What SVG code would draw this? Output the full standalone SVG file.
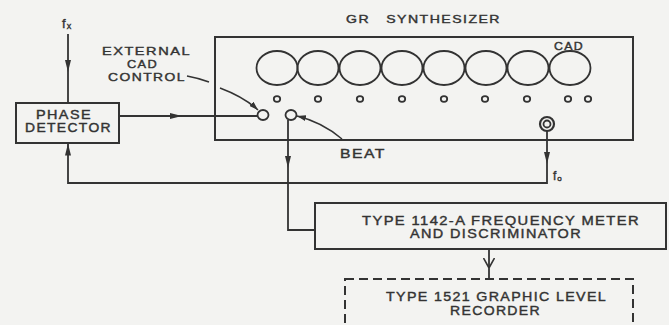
<svg xmlns="http://www.w3.org/2000/svg" width="669" height="325" viewBox="0 0 669 325">
<style>
.bg{fill:#f3f3f1}
.box{fill:none;stroke:#333;stroke-width:2}
.ln{fill:none;stroke:#333;stroke-width:1.8}
.thin{fill:none;stroke:#333;stroke-width:1.5}
.knob{fill:none;stroke:#333;stroke-width:1.8}
.t{font-family:"Liberation Sans",Arial,sans-serif;fill:#333;font-size:12.5px;stroke:#333;stroke-width:0.4;letter-spacing:1.2px}
.dash{fill:none;stroke:#333;stroke-width:2;stroke-dasharray:9 5}
</style>
<defs>
<marker id="arr" viewBox="0 0 12 6" refX="12" refY="3" markerWidth="12" markerHeight="6" markerUnits="userSpaceOnUse" orient="auto">
<path d="M0,0 L12,3 L0,6 z" fill="#333"/>
</marker>
<marker id="arrs" viewBox="0 0 9 6" refX="9" refY="3" markerWidth="9" markerHeight="6" markerUnits="userSpaceOnUse" orient="auto">
<path d="M0,0 L9,3 L0,6 z" fill="#333"/>
</marker>
<marker id="vee" viewBox="0 0 10 12" refX="10" refY="6" markerWidth="10" markerHeight="12" markerUnits="userSpaceOnUse" orient="auto">
<path d="M0,0.5 L10,6 L0,11.5" fill="none" stroke="#333" stroke-width="1.6"/>
</marker>
</defs>
<rect class="bg" x="0" y="0" width="669" height="325"/>

<g id="synthesizer">
<text class="t" xml:space="preserve" x="346" y="23" textLength="155" lengthAdjust="spacingAndGlyphs" style="font-size:11.5px;white-space:pre">GR   SYNTHESIZER</text>
<rect class="box" x="215" y="37" width="418" height="103"/>
<g class="knob">
<ellipse cx="277" cy="68" rx="20.5" ry="17"/>
<ellipse cx="318" cy="68" rx="20.5" ry="17"/>
<ellipse cx="360" cy="68" rx="20.5" ry="17"/>
<ellipse cx="402" cy="68" rx="20.5" ry="17"/>
<ellipse cx="444" cy="68" rx="20.5" ry="17"/>
<ellipse cx="486" cy="68" rx="20.5" ry="17"/>
<ellipse cx="528" cy="68" rx="20.5" ry="17"/>
<ellipse cx="570" cy="68" rx="20.5" ry="17"/>
<ellipse cx="277" cy="99" rx="3.2" ry="2.8"/>
<ellipse cx="318" cy="99" rx="3.2" ry="2.8"/>
<ellipse cx="360" cy="99" rx="3.2" ry="2.8"/>
<ellipse cx="402" cy="99" rx="3.2" ry="2.8"/>
<ellipse cx="444" cy="99" rx="3.2" ry="2.8"/>
<ellipse cx="485" cy="99" rx="3.2" ry="2.8"/>
<ellipse cx="527" cy="99" rx="3.2" ry="2.8"/>
<ellipse cx="568" cy="99" rx="3.2" ry="2.8"/>
<ellipse cx="588" cy="99" rx="3.2" ry="2.8"/>
<ellipse cx="263" cy="115" rx="5.5" ry="5"/>
<ellipse cx="291" cy="115" rx="5.5" ry="5"/>
<circle cx="547" cy="124" r="7" stroke-width="2.2"/>
<circle cx="547" cy="124" r="3.5" stroke-width="1.8"/>
</g>
<text class="t" x="554" y="50" textLength="30" lengthAdjust="spacingAndGlyphs" style="font-size:11px">CAD</text>
</g>

<g id="phase-detector">
<rect class="box" x="16" y="103" width="103" height="40"/>
<text class="t" x="36" y="119" textLength="56" lengthAdjust="spacingAndGlyphs" style="font-size:12px">PHASE</text>
<text class="t" x="25" y="131.5" textLength="87" lengthAdjust="spacingAndGlyphs" style="font-size:12px">DETECTOR</text>
</g>

<g id="frequency-meter">
<rect class="box" x="315" y="203" width="351" height="46"/>
<text class="t" x="362" y="225" textLength="278" lengthAdjust="spacingAndGlyphs">TYPE 1142-A FREQUENCY METER</text>
<text class="t" x="410" y="238" textLength="172" lengthAdjust="spacingAndGlyphs">AND DISCRIMINATOR</text>
</g>

<g id="level-recorder">
<rect class="dash" x="345" y="279" width="288" height="70"/>
<text class="t" x="386" y="301" textLength="221" lengthAdjust="spacingAndGlyphs">TYPE 1521 GRAPHIC LEVEL</text>
<text class="t" x="450" y="315" textLength="91" lengthAdjust="spacingAndGlyphs">RECORDER</text>
</g>

<g id="labels">
<text class="t" x="102" y="54.5" textLength="89" lengthAdjust="spacingAndGlyphs" style="font-size:11.5px">EXTERNAL</text>
<text class="t" x="127" y="67.5" textLength="31" lengthAdjust="spacingAndGlyphs" style="font-size:11.5px">CAD</text>
<text class="t" x="108" y="80.5" textLength="78" lengthAdjust="spacingAndGlyphs" style="font-size:11.5px">CONTROL</text>
<text class="t" x="340" y="158" textLength="46" lengthAdjust="spacingAndGlyphs">BEAT</text>
<text class="t" x="62" y="28" style="font-size:13px;letter-spacing:0">f<tspan dx="1" dy="1" style="font-size:9px">x</tspan></text>
<text class="t" x="553" y="180" style="font-size:12px;letter-spacing:0">f<tspan dx="1" dy="1" style="font-size:8px">o</tspan></text>
</g>

<g id="connectors">
<path class="ln" d="M68 34 V72" marker-end="url(#arr)"/>
<path class="ln" d="M68 72 V103"/>
<path class="ln" d="M119 116 H182" marker-end="url(#arr)"/>
<path class="ln" d="M182 116 H257.5"/>
<path class="ln" d="M547 131 V164" marker-end="url(#arr)"/>
<path class="ln" d="M547 164 V183 H68 V158"/>
<path class="ln" d="M68 158 V143.5" marker-end="url(#arr)"/>
<path class="ln" d="M288 120 V168" marker-end="url(#arr)"/>
<path class="ln" d="M288 168 V230 H315"/>
<path class="ln" d="M489 249 V268" marker-end="url(#vee)"/>
<path class="ln" d="M489 268 V279"/>
<path class="thin" d="M187 76 Q198 78 209 82"/>
<path class="thin" d="M220 88 Q244 97 258 110" marker-end="url(#arrs)"/>
<path class="thin" d="M342 139 Q322 122 297 116" marker-end="url(#arrs)"/>
</g>
</svg>
